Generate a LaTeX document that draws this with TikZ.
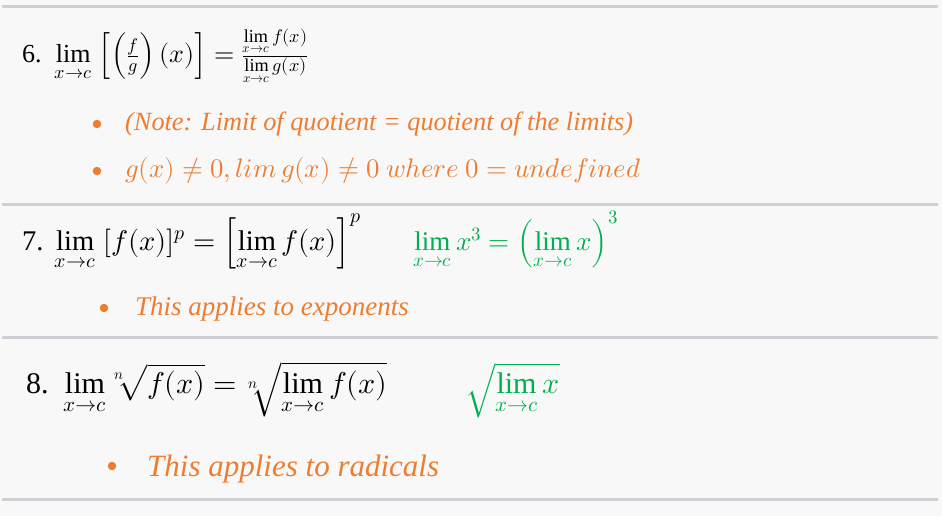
\documentclass[tikz,border=0pt]{standalone}
\usepackage{fontspec}
\usepackage{unicode-math}
\setmainfont{Liberation Serif}
\definecolor{bg}{HTML}{F8F8F8}
\definecolor{rulec}{HTML}{CDD1D6}
\definecolor{orng}{HTML}{ED7D31}
\definecolor{grn}{HTML}{00B050}
\tikzset{
  sepline/.style={draw=rulec, line width=3pt},
  fml/.style={inner sep=0pt, anchor=base west, text=black},
  gfml/.style={inner sep=0pt, anchor=base west, text=grn},
  note/.style={inner sep=0pt, anchor=base west, text=orng},
  bdot/.style={circle, fill=orng, draw=none, inner sep=0pt, minimum size=8.5pt}
}
\begin{document}
\begin{tikzpicture}[x=1pt,y=-1pt]
\useasboundingbox (0,0) rectangle (942,516);
\fill[bg] (0,0) rectangle (942,516);
% separators
\coordinate (s1a) at (2,6.5);   \coordinate (s1b) at (938,6.5);
\coordinate (s2a) at (2,204.5); \coordinate (s2b) at (938,204.5);
\coordinate (s3a) at (2,337.5); \coordinate (s3b) at (938,337.5);
\coordinate (s4a) at (2,499.5); \coordinate (s4b) at (938,499.5);
\draw[sepline] (s1a) -- (s1b);
\draw[sepline] (s2a) -- (s2b);
\draw[sepline] (s3a) -- (s3b);
\draw[sepline] (s4a) -- (s4b);
% rule 6
\node[fml, font=\fontsize{26}{31}\selectfont] (f6) at (22,63)
  {6.\hspace{0.5em}$\displaystyle\lim_{x\to c}\;\Bigl[\Bigl(\textstyle\frac{f}{g}\Bigr)\,(x)\Bigr]=\textstyle\frac{\lim\limits_{x\to c} f(x)}{\lim\limits_{x\to c} g(x)}$};
\node[bdot] (d6a) at (97,124) {};
\node[note, font=\fontsize{26.3}{30}\selectfont\itshape] (t6a) at (125,131)
  {(Note: Limit of quotient = quotient of the limits)};
\node[bdot] (d6b) at (97,171) {};
\node[note, font=\fontsize{26.8}{30}\selectfont] (t6b) at (125,177)
  {$g(x)\neq 0, lim\, g(x)\neq 0\ where\ 0=undefined$};
% rule 7
\node[fml, font=\fontsize{28.5}{34}\selectfont] (f7) at (22,250)
  {7.\hspace{0.4em}$\displaystyle\lim_{x\to c}\;[f(x)]^p=\left[\lim_{x\to c} f(x)\right]^p$};
\node[gfml, font=\fontsize{27}{32}\selectfont] (g7) at (413,250)
  {$\displaystyle\lim_{x\to c} x^3=\left(\lim_{x\to c} x\right)^3$};
\node[bdot] (d7) at (104,308) {};
\node[note, font=\fontsize{27}{32}\selectfont\itshape] (t7) at (135,315)
  {This applies to exponents};
% rule 8
\node[fml, font=\fontsize{30}{36}\selectfont] (f8) at (26,393)
  {8.\hspace{0.5em}$\displaystyle\lim_{x\to c}\sqrt[n]{f(x)}=\sqrt[n]{\lim_{x\to c} f(x)}$};
\node[gfml, font=\fontsize{30}{36}\selectfont] (g8) at (465,393)
  {$\displaystyle\sqrt{\lim_{x\to c} x}$};
\node[bdot] (d8) at (112,466) {};
\node[note, font=\fontsize{31}{36}\selectfont\itshape] (t8) at (147,476)
  {This applies to radicals};
\end{tikzpicture}
\end{document}
